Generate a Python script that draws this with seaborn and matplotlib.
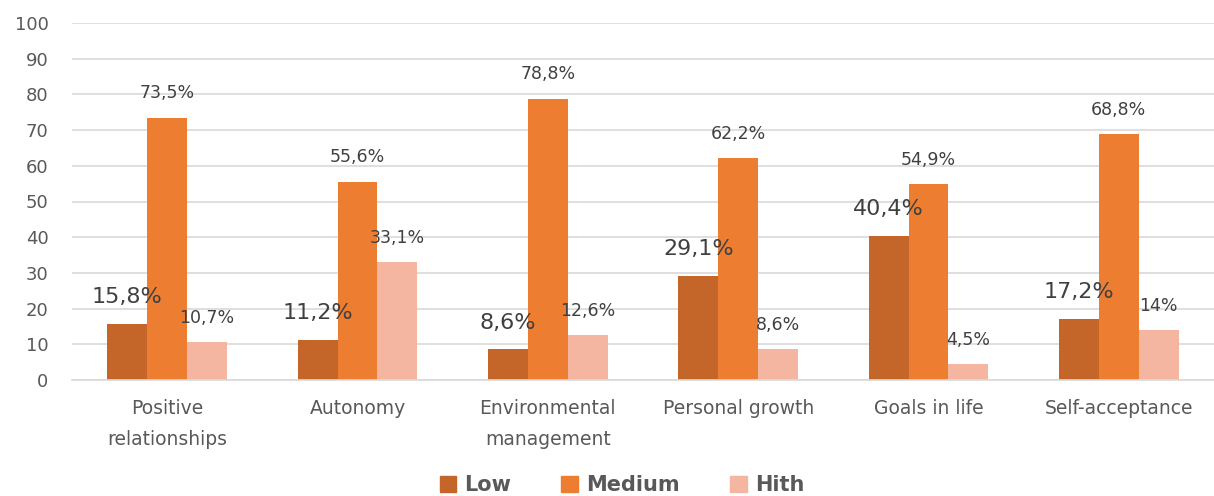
import matplotlib
matplotlib.use("Agg")
import matplotlib.pyplot as plt
import seaborn as sns
import pandas as pd

categories = ["Positive\nrelationships", "Autonomy", "Environmental\nmanagement",
              "Personal growth", "Goals in life", "Self-acceptance"]
low = [15.8, 11.2, 8.6, 29.1, 40.4, 17.2]
medium = [73.5, 55.6, 78.8, 62.2, 54.9, 68.8]
high = [10.7, 33.1, 12.6, 8.6, 4.5, 14.0]
low_labels = ["15,8%", "11,2%", "8,6%", "29,1%", "40,4%", "17,2%"]
medium_labels = ["73,5%", "55,6%", "78,8%", "62,2%", "54,9%", "68,8%"]
high_labels = ["10,7%", "33,1%", "12,6%", "8,6%", "4,5%", "14%"]
series_names = ["Low", "Medium", "Hith"]
colors = ["#C4652A", "#ED7D31", "#F4B6A1"]

rows = []
for name, vals in zip(series_names, [low, medium, high]):
    for c, v in zip(categories, vals):
        rows.append({"cat": c, "series": name, "value": v})
df = pd.DataFrame(rows)

sns.set_theme(style="white")
plt.rcParams['font.family'] = ['DejaVu Sans']

fig = plt.figure(figsize=(12.14, 4.96), dpi=100)
ax = fig.add_axes([72/1214, 1 - 380/496, 1 - 72/1214, (380 - 23)/496])

sns.barplot(data=df, x="cat", y="value", hue="series", order=categories,
            hue_order=series_names, palette=colors, width=0.63,
            saturation=1, ax=ax, legend=True, linewidth=0, edgecolor="none")

ax.set_ylim(0, 100)
ax.set_xlim(-0.5, len(categories) - 0.5)
ax.set_yticks(range(0, 101, 10))
ax.yaxis.grid(True, color="#D9D9D9", linewidth=1.2)
ax.set_axisbelow(True)
for s in ["top", "right", "left"]:
    ax.spines[s].set_visible(False)
ax.spines["bottom"].set_color("#D9D9D9")
ax.spines["bottom"].set_linewidth(1.2)
ax.set_xlabel("")
ax.set_ylabel("")
ax.tick_params(axis="both", length=0, labelsize=13, colors="#595959")
ax.tick_params(axis="x", pad=14, labelsize=13.5)
ax.tick_params(axis="y", pad=17)
for t in ax.get_xticklabels():
    t.set_linespacing(1.75)
    t.set_verticalalignment("top")

label_sets = [low_labels, medium_labels, high_labels]
sizes = [16, 12.5, 12.5]
offsets = [12, 11, 11]
for cont, labs, fs, off in zip(ax.containers, label_sets, sizes, offsets):
    for bar, lab in zip(cont, labs):
        x = bar.get_x() + bar.get_width() / 2
        y = bar.get_height()
        ax.annotate(lab, (x, y), xytext=(0, off), textcoords="offset points",
                    ha="center", va="bottom", fontsize=fs, color="#404040")

ax.get_legend().remove()
handles = [plt.Rectangle((0, 0), 1, 1, color=c) for c in colors]
fig.legend(handles, series_names, loc="center", bbox_to_anchor=(622/1214, 1 - 485/496),
           ncol=3, frameon=False, handlelength=0.8, handleheight=0.8,
           columnspacing=2.4, handletextpad=0.4,
           prop={"size": 15, "weight": "bold"}, labelcolor="#595959")

fig.savefig("out.png", dpi=100)
